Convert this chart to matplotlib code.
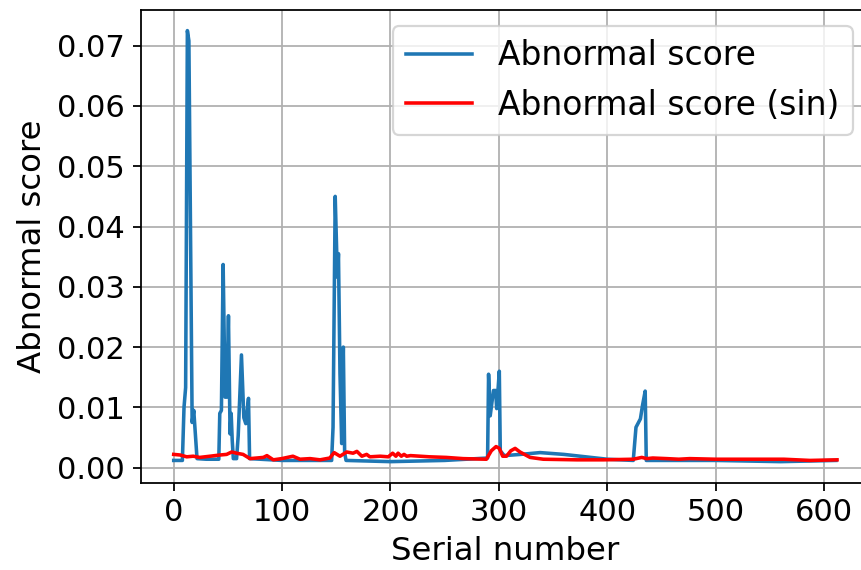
"""Abnormal score vs serial number."""

import matplotlib
matplotlib.use('Agg')
import matplotlib.pyplot as plt

# blue series: abnormal score
scoreX = [0, 8, 9.5, 11, 12.6, 14, 17, 18.5, 21.5, 30, 41.6, 42.5, 44, 45.6, 47.4, 49, 50.5, 52, 53, 54,
          55, 58, 59.5, 62.5, 64.7, 66.5, 69, 70, 100, 145.7, 147, 149, 151, 152, 153.4, 155, 156.5, 157.7,
          159, 200, 250, 289.6, 290.5, 292, 295, 297, 298, 300.4, 301.3, 305, 320, 338, 360, 400, 424,
          426.5, 430.6, 432.5, 435, 436, 500, 560, 611]
scoreY = [0.0012, 0.0012, 0.0100, 0.0133, 0.0725, 0.0708, 0.0075, 0.0095, 0.0015, 0.0014, 0.0014, 0.0090,
          0.0095, 0.0337, 0.0117, 0.0117, 0.0252, 0.0056, 0.0090, 0.0045, 0.0015, 0.0015, 0.0053, 0.0187,
          0.0083, 0.0073, 0.0115, 0.0015, 0.0012, 0.0012, 0.0067, 0.0450, 0.0316, 0.0355, 0.0156, 0.0040,
          0.0200, 0.0025, 0.0012, 0.0010, 0.0012, 0.0016, 0.0155, 0.0086, 0.0128, 0.0128, 0.0098, 0.0160,
          0.0028, 0.0020, 0.0022, 0.0025, 0.0022, 0.0014, 0.0012, 0.0067, 0.0081, 0.0103, 0.0127, 0.0012,
          0.0012, 0.0010, 0.0012]

# red series: abnormal score (sin)
sinX = [0, 6, 12, 18, 24, 33.5, 42.7, 48.8, 53.5, 58, 64, 70.4, 76.6, 82.7, 86, 91.9, 99.6, 110, 116.5,
        125.8, 135, 144, 148, 153.4, 159.6, 165.5, 169, 173.6, 178, 181, 190.5, 198, 202, 205, 207, 210,
        212.5, 215, 218.5, 236, 251.5, 267, 288.5, 293, 297.4, 300.4, 303.5, 307, 311, 315, 319.5, 328.8,
        341, 372, 396.4, 424, 431.8, 436.4, 442, 455, 466, 476, 500, 534, 563, 587, 612]
sinY = [0.0022, 0.0021, 0.0018, 0.0019, 0.0017, 0.0019, 0.0021, 0.0022, 0.0026, 0.0024, 0.0022, 0.0015,
        0.0016, 0.0017, 0.0020, 0.0013, 0.0015, 0.0019, 0.0014, 0.0015, 0.0013, 0.0016, 0.0025, 0.0019,
        0.0026, 0.0024, 0.0027, 0.0019, 0.0022, 0.0018, 0.0019, 0.0018, 0.0024, 0.0019, 0.0024, 0.0019,
        0.0022, 0.0019, 0.0020, 0.0018, 0.0017, 0.0015, 0.0014, 0.0028, 0.0035, 0.0032, 0.0019, 0.0019,
        0.0028, 0.0032, 0.0026, 0.0017, 0.0014, 0.0013, 0.0013, 0.0014, 0.0017, 0.0015, 0.0016, 0.0015,
        0.0014, 0.0015, 0.0014, 0.0014, 0.0014, 0.0012, 0.0013]

fig = plt.figure(figsize=(861/160, 570/160), dpi=160)
ax = fig.add_axes([0.1633, 0.1532, 0.846, 0.8298])

ax.plot(scoreX, scoreY, color='#1f77b4', linewidth=1.6, label='Abnormal score')
ax.plot(sinX, sinY, color='red', linewidth=1.6, label='Abnormal score (sin)')

ax.set_xlim(-30.55, 641.5)
ax.set_ylim(-0.00249, 0.07597)
ax.set_xticks([0, 100, 200, 300, 400, 500, 600])
ax.set_yticks([0.00, 0.01, 0.02, 0.03, 0.04, 0.05, 0.06, 0.07])
ax.set_yticklabels(['0.00', '0.01', '0.02', '0.03', '0.04', '0.05', '0.06', '0.07'])
ax.tick_params(labelsize=13.8)
ax.set_xlabel('Serial number', fontsize=14.6)
ax.set_ylabel('Abnormal score', fontsize=14.6)
ax.grid(True)
ax.legend(loc='upper right', fontsize=14.8)

fig.savefig('out.png', dpi=160)
